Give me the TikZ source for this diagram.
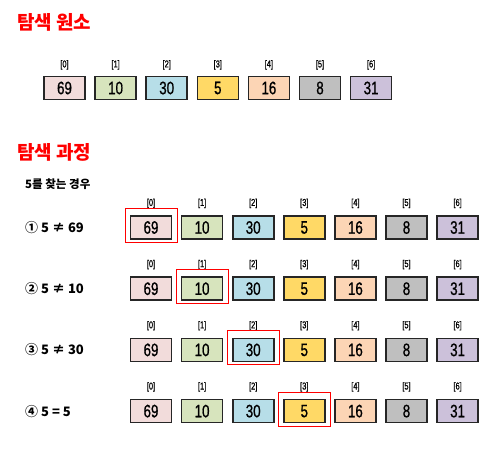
\documentclass[tikz,border=0pt]{standalone}
\usepackage{fontspec}
\setmainfont{Noto Sans CJK KR}
\newfontfamily\numfont[FakeStretch=0.74,FakeBold=0.8]{Liberation Sans}
\usetikzlibrary{positioning}
\definecolor{cpink}{HTML}{F2DCDB}
\definecolor{cgreen}{HTML}{D7E4BD}
\definecolor{cblue}{HTML}{B7DEE8}
\definecolor{cyellow}{HTML}{FFD966}
\definecolor{cpeach}{HTML}{FCD5B5}
\definecolor{cgray}{HTML}{BFBFBF}
\definecolor{cviolet}{HTML}{CCC1DA}
\tikzstyle{heading} = [anchor=west, inner sep=0, text=red, font=\fontsize{19}{19}\selectfont\bfseries]
\tikzstyle{subheading} = [anchor=west, inner sep=0, font=\fontsize{11.5}{12}\selectfont\bfseries]
\tikzstyle{case} = [anchor=west, inner sep=0, font=\fontsize{13}{13}\selectfont\bfseries]
\tikzstyle{cell} = [rectangle, draw=black!85, line width=1.6pt, minimum width=41pt, minimum height=23pt, inner sep=0, text centered, font=\numfont\fontsize{18}{18}\selectfont]
\tikzstyle{idx} = [inner sep=0, font=\numfont\fontsize{10}{10}\selectfont]
\tikzstyle{hit} = [rectangle, draw=red, line width=1pt, minimum width=52pt, minimum height=34pt, yshift=2pt]

\begin{document}
\begin{tikzpicture}[x=1pt,y=-1pt]
            \useasboundingbox (0,0) rectangle (500,448);

            \node [heading] at (17,22) (title1) {탐색 원소};
            \foreach \v/\c [count=\i from 0] in {69/cpink,10/cgreen,30/cblue,5/cyellow,16/cpeach,8/cgray,31/cviolet} {
                \node [cell, fill=\c] at (64.5+51.1*\i,88) (a\i) {\v};
                \node [idx, above=6pt of a\i] (ai\i) {[\i]};
            }

            \node [heading] at (17,152.5) (title2) {탐색 과정};
            \node [subheading] at (25,184) (sub) {5를 찾는 경우};

            \foreach \r/\y in {1/227.5,2/288.7,3/349.9,4/411.1} {
                \foreach \v/\c [count=\i from 0] in {69/cpink,10/cgreen,30/cblue,5/cyellow,16/cpeach,8/cgray,31/cviolet} {
                    \node [cell, fill=\c] at (151+51.1*\i,\y) (r\r-\i) {\v};
                    \node [idx, above=7pt of r\r-\i] (r\r-i\i) {[\i]};
                }
            }

            \node [case] at (25,227.5) (case1) {① 5 ≠ 69};
            \node [case] at (25,288.7) (case2) {② 5 ≠ 10};
            \node [case] at (25,349.9) (case3) {③ 5 ≠ 30};
            \node [case] at (25,411.1) (case4) {④ 5 = 5};

            \node [hit] at (r1-0) (hit1) {};
            \node [hit] at (r2-1) (hit2) {};
            \node [hit] at (r3-2) (hit3) {};
            \node [hit] at (r4-3) (hit4) {};
\end{tikzpicture}
\end{document}
